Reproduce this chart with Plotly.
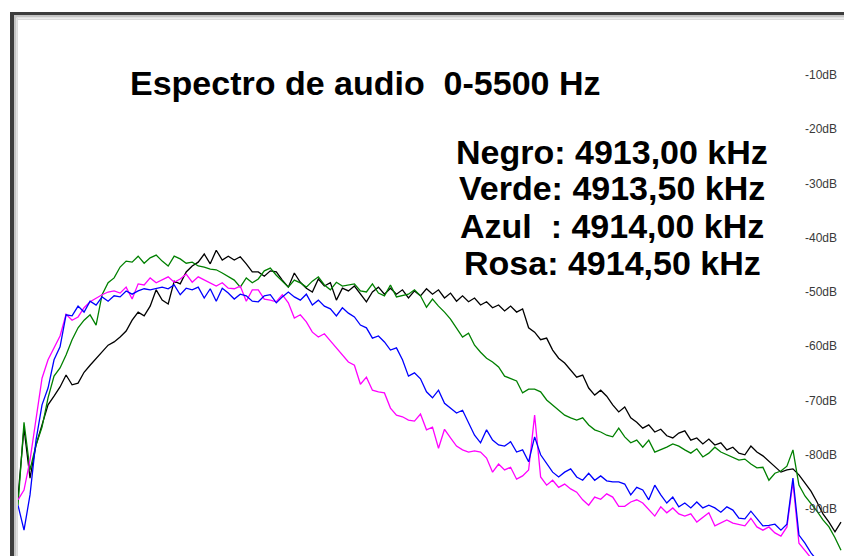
import numpy as np
import plotly.graph_objects as go

# Spectrum bins: 40 Hz per bin, starting at 0 Hz
BIN_HZ = 40

black_db = [
    -87.8, -75.1, -84.3, -78.2, -74.5, -70.8, -69.2, -67.5, -65.3, -67.1,
    -66.8, -64.8, -63.5, -62.2, -61.1, -59.8, -59.2, -58.3, -57.2, -55.2,
    -53.7, -54.4, -52.6, -49.6, -51.5, -52.2, -48.0, -48.5, -46.3, -45.2,
    -44.5, -43.0, -44.8, -42.3, -44.1, -43.4, -44.1, -43.5, -44.8, -46.3,
    -46.3, -47.1, -46.1, -46.3, -47.8, -49.1, -46.5, -48.2, -49.3, -50.0,
    -47.6, -48.9, -48.3, -51.5, -49.3, -49.8, -48.9, -50.4, -51.8, -50.0,
    -49.1, -50.4, -49.3, -50.4, -49.6, -51.1, -49.8, -50.7, -49.4, -50.4,
    -49.6, -51.1, -50.2, -51.7, -50.7, -51.8, -51.1, -52.4, -51.8, -52.9,
    -52.4, -53.5, -52.6, -53.7, -53.1, -56.6, -57.4, -58.8, -58.5, -60.7,
    -62.2, -63.1, -64.4, -65.7, -65.3, -67.7, -69.0, -68.1, -69.2, -70.8,
    -72.1, -71.2, -73.2, -74.0, -75.1, -74.5, -75.8, -75.3, -76.5, -76.9,
    -76.0, -75.6, -77.3, -76.9, -78.0, -77.1, -78.2, -77.8, -79.1, -78.6,
    -79.7, -80.0, -78.4, -79.5, -80.2, -81.2, -82.1, -83.2, -82.8, -82.6,
    -83.7, -85.2, -86.7, -88.7, -90.9, -92.4, -94.2, -92.4,
]

green_db = [
    -89.3, -74.0, -82.8, -78.2, -74.9, -69.5, -65.5, -64.0, -61.6, -58.8,
    -56.6, -55.2, -54.2, -56.1, -50.5, -48.3, -47.4, -45.4, -44.3, -44.5,
    -43.4, -44.7, -43.7, -43.2, -44.3, -45.2, -43.4, -43.9, -44.7, -44.5,
    -45.2, -45.4, -45.8, -45.9, -46.5, -47.2, -47.8, -49.1, -47.4, -48.3,
    -47.6, -46.1, -45.6, -46.9, -48.0, -49.1, -47.8, -48.3, -49.1, -48.0,
    -47.2, -48.7, -49.6, -48.2, -48.9, -48.7, -48.5, -49.8, -50.0, -48.5,
    -50.2, -50.7, -48.7, -50.9, -50.7, -50.4, -49.6, -50.7, -52.8, -51.3,
    -52.6, -53.7, -55.0, -56.6, -58.3, -57.6, -59.8, -61.1, -62.2, -62.9,
    -63.8, -65.5, -65.9, -66.4, -68.6, -67.9, -67.9, -68.4, -69.9, -70.8,
    -71.8, -72.7, -73.2, -73.6, -73.2, -74.5, -75.4, -75.8, -76.4, -76.7,
    -75.1, -76.7, -77.8, -77.3, -78.6, -77.3, -79.5, -79.1, -78.6, -78.0,
    -78.4, -79.1, -79.7, -78.9, -80.4, -79.7, -78.6, -79.5, -80.0, -80.4,
    -81.0, -80.8, -81.7, -82.4, -82.3, -84.7, -83.4, -83.0, -82.1, -79.1,
    -85.6, -87.6, -88.9, -90.4, -92.0, -93.3, -95.3, -97.6,
]

blue_db = [
    -89.3, -93.9, -87.4, -77.3, -70.8, -67.7, -62.5, -60.1, -54.2, -54.4,
    -52.6, -53.7, -51.7, -52.4, -50.9, -51.7, -50.7, -50.9, -49.8, -50.4,
    -49.8, -49.4, -49.6, -49.4, -49.1, -49.4, -48.7, -50.5, -49.3, -49.6,
    -49.1, -51.1, -49.4, -51.7, -49.3, -50.2, -51.3, -50.4, -50.7, -51.7,
    -51.8, -50.7, -50.5, -52.0, -50.9, -50.0, -50.9, -51.5, -50.4, -52.4,
    -51.5, -52.6, -53.1, -54.4, -52.9, -53.9, -54.6, -56.1, -56.6, -58.5,
    -58.1, -59.2, -60.7, -60.3, -62.5, -65.5, -64.9, -66.0, -68.4, -69.5,
    -68.1, -70.5, -71.4, -72.3, -71.8, -74.1, -76.4, -77.8, -75.4, -77.3,
    -78.2, -78.4, -77.6, -79.5, -79.1, -81.3, -76.7, -80.0, -81.7, -83.2,
    -84.1, -83.2, -82.6, -84.1, -84.7, -83.4, -84.7, -83.9, -84.8, -85.0,
    -85.0, -85.4, -87.4, -86.0, -86.5, -88.3, -85.6, -87.4, -88.9, -87.8,
    -89.6, -88.9, -89.8, -88.7, -89.8, -89.3, -89.8, -90.6, -89.6, -90.2,
    -91.7, -91.8, -90.4, -91.8, -93.1, -93.0, -92.8, -93.9, -92.8, -84.3,
    -94.8, -96.3, -98.1, -99.4,
]

pink_db = [
    -88.3, -86.5, -81.0, -73.0, -65.9, -62.5, -60.3, -58.1, -54.1, -55.2,
    -54.6, -52.9, -51.8, -51.1, -50.5, -50.0, -49.8, -50.2, -49.1, -51.3,
    -48.5, -48.7, -47.4, -48.3, -47.8, -47.2, -48.2, -47.6, -46.7, -48.2,
    -47.2, -47.8, -48.3, -48.9, -48.3, -49.3, -49.4, -48.9, -51.7, -49.6,
    -49.6, -51.3, -51.5, -51.8, -50.5, -52.0, -54.8, -54.2, -55.5, -57.4,
    -58.3, -57.7, -59.0, -60.3, -61.4, -62.9, -63.5, -67.0, -65.7, -68.1,
    -68.4, -68.6, -71.4, -72.7, -73.0, -73.6, -73.8, -72.5, -75.4, -74.9,
    -78.8, -75.3, -76.9, -78.4, -79.1, -79.5, -79.3, -79.5, -80.6, -83.2,
    -81.7, -82.8, -82.3, -84.5, -83.9, -82.8, -72.7, -84.1, -85.6, -84.7,
    -86.0, -85.4, -86.3, -86.9, -88.3, -89.3, -87.8, -88.2, -87.2, -87.8,
    -89.5, -89.5, -88.7, -88.3, -88.9, -90.2, -91.3, -89.6, -90.7, -89.8,
    -90.9, -91.3, -90.9, -92.4, -91.5, -90.7, -93.1, -92.6, -92.0, -92.6,
    -92.8, -93.1, -91.7, -93.3, -93.9, -93.3, -94.4, -95.0, -93.3, -85.0,
    -96.3, -97.7, -99.0,
]

db_ticks = [-10, -20, -30, -40, -50, -60, -70, -80, -90]
title_text = "Espectro de audio\u00a0 0-5500 Hz"
legend_lines = [
    "Negro: 4913,00 kHz",
    "Verde: 4913,50 kHz",
    "Azul\u00a0 : 4914,00 kHz",
    "Rosa: 4914,50 kHz",
]

W, H = 844, 556
PLOT_LEFT, PLOT_TOP = 18, 22
F_MAX = 5500
DB_TOP, DB_BOTTOM = -0.23, -98.66
FONT = "Liberation Sans, Arial, sans-serif"


def px(x):
    return x / W


def py(y):
    return 1 - y / H


fig = go.Figure()

series = [
    ("Negro", "#000000", black_db),
    ("Verde", "#008000", green_db),
    ("Rosa", "#ff00ff", pink_db),
    ("Azul", "#0000ff", blue_db),
]
for name, color, vals in series:
    freqs = np.arange(len(vals)) * BIN_HZ
    fig.add_trace(go.Scatter(
        x=freqs, y=vals, mode="lines", name=name,
        line=dict(color=color, width=1.3), hoverinfo="skip",
    ))

annotations = []
for v in db_ticks:
    annotations.append(dict(
        x=px(821), xref="paper", y=v, yref="y",
        text=f"{v}dB", showarrow=False, xanchor="center", yanchor="middle",
        font=dict(family=FONT, size=12, color="#3a3a3a"),
    ))

annotations.append(dict(
    x=px(365), xref="paper", y=py(83), yref="paper",
    text=f"<b>{title_text}</b>", showarrow=False,
    xanchor="center", yanchor="middle",
    font=dict(family=FONT, size=34, color="#000000"),
))

legend_y = [152, 188, 226, 263]
for line, yy in zip(legend_lines, legend_y):
    annotations.append(dict(
        x=px(612), xref="paper", y=py(yy), yref="paper",
        text=f"<b>{line}</b>", showarrow=False,
        xanchor="center", yanchor="middle",
        font=dict(family=FONT, size=34, color="#000000"),
    ))

# Window frame: dark outer edge with lighter inner bevel
shapes = [
    dict(type="rect", xref="paper", yref="paper",
         x0=px(10), x1=px(14), y0=py(556), y1=py(12),
         fillcolor="#3d3d3d", line=dict(width=0)),
    dict(type="rect", xref="paper", yref="paper",
         x0=px(10), x1=px(844), y0=py(15), y1=py(12),
         fillcolor="#3d3d3d", line=dict(width=0)),
    dict(type="rect", xref="paper", yref="paper",
         x0=px(14), x1=px(16.5), y0=py(556), y1=py(15),
         fillcolor="#c4c4c4", line=dict(width=0)),
    dict(type="rect", xref="paper", yref="paper",
         x0=px(14), x1=px(844), y0=py(17.5), y1=py(15),
         fillcolor="#c4c4c4", line=dict(width=0)),
    dict(type="rect", xref="paper", yref="paper",
         x0=px(17), x1=px(18), y0=py(556), y1=py(18),
         fillcolor="#dcdcdc", line=dict(width=0)),
    dict(type="rect", xref="paper", yref="paper",
         x0=px(17), x1=px(844), y0=py(20), y1=py(18.5),
         fillcolor="#dcdcdc", line=dict(width=0)),
]

fig.update_layout(
    width=W, height=H,
    margin=dict(l=0, r=0, t=0, b=0),
    paper_bgcolor="#ffffff", plot_bgcolor="#ffffff",
    showlegend=False,
    xaxis=dict(domain=[px(PLOT_LEFT), 1], range=[0, F_MAX], visible=False,
               fixedrange=True),
    yaxis=dict(domain=[0, py(PLOT_TOP)], range=[DB_BOTTOM, DB_TOP],
               visible=False, fixedrange=True),
    annotations=annotations,
    shapes=shapes,
)

fig.write_html("out.html", config={"displayModeBar": False})
